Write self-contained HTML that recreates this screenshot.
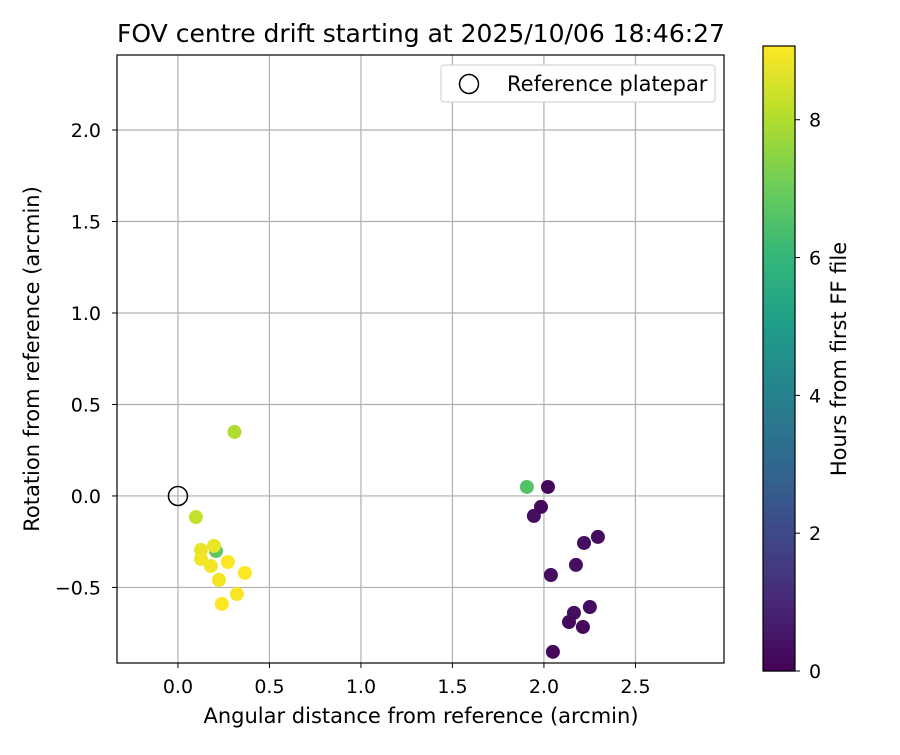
<!DOCTYPE html>
<html><head><meta charset="utf-8"><style>
body{margin:0;background:#fff;}
svg{font-family:"DejaVu Sans","Liberation Sans",sans-serif;}
</style></head><body>
<svg id="c" width="900" height="750" xmlns="http://www.w3.org/2000/svg"></svg>
<script>
const xVals=[0.309,0.098,0.126,0.126,0.208,0.197,0.180,0.273,0.224,0.366,0.322,0.240,1.907,2.022,1.984,1.945,2.219,2.295,2.175,2.038,2.251,2.164,2.137,2.213,2.049];
const yVals=[0.350,-0.115,-0.295,-0.344,-0.301,-0.273,-0.383,-0.361,-0.459,-0.421,-0.536,-0.590,0.049,0.049,-0.060,-0.109,-0.257,-0.224,-0.377,-0.432,-0.607,-0.639,-0.689,-0.716,-0.852];
const hours=[8.0,8.3,8.8,8.9,6.8,8.8,8.9,9.05,8.9,9.05,9.0,9.05,6.6,0.2,0.2,0.3,0.3,0.3,0.4,0.3,0.3,0.35,0.2,0.2,0.2];
const xTicks=[0.0,0.5,1.0,1.5,2.0,2.5];
const yTicks=[-0.5,0.0,0.5,1.0,1.5,2.0];
const cTicks=[0,2,4,6,8];
const X0=117,X1=724,Y0=55,Y1=663,xmin=-0.333,xmax=2.984,ymin=-0.913,ymax=2.41;
const sx=v=>X0+(v-xmin)/(xmax-xmin)*(X1-X0);
const sy=v=>Y1-(v-ymin)/(ymax-ymin)*(Y1-Y0);
const CB={x:763,w:32,top:46,bot:671,max:9.07};
const cy=v=>CB.bot-v/CB.max*(CB.bot-CB.top);
const vir=[[68,1,84],[72,40,120],[62,74,137],[49,104,142],[38,130,142],[31,158,137],[53,183,121],[109,205,89],[180,222,44],[253,231,37]];
function col(t){t=Math.max(0,Math.min(1,t))*(vir.length-1);const i=Math.min(Math.floor(t),vir.length-2),f=t-i;const a=vir[i],b=vir[i+1];return `rgb(${a.map((v,k)=>Math.round(v+(b[k]-v)*f)).join(',')})`;}
const svg=document.getElementById('c');const NS='http://www.w3.org/2000/svg';
function el(tag,at,txt){const e=document.createElementNS(NS,tag);for(const k in at)e.setAttribute(k,at[k]);if(txt!==undefined)e.textContent=txt;svg.appendChild(e);return e;}
let e;
e=el('text',{x:421,y:42,'font-size':25,'text-anchor':'middle'},'FOV centre drift starting at 2025/10/06 18:46:27');


xTicks.forEach(v=>{const x=sx(v);
e=el('line',{x1:x,x2:x,y1:Y0,y2:Y1,stroke:'#b0b0b0','stroke-width':1.2});


el('line',{x1:x,x2:x,y1:Y1,y2:Y1+5,stroke:'#000'});
e=el('text',{x:x,y:Y1+30,'font-size':19,'text-anchor':'middle'},v.toFixed(1));

});
yTicks.forEach(v=>{const y=sy(v);
e=el('line',{x1:X0,x2:X1,y1:y,y2:y,stroke:'#b0b0b0','stroke-width':1.2});


el('line',{x1:X0-5,x2:X0,y1:y,y2:y,stroke:'#000'});
e=el('text',{x:X0-16,y:y+7,'font-size':19,'text-anchor':'end'},(v<0?'\u2212':'')+Math.abs(v).toFixed(1));

});
xVals.forEach((v,i)=>{
e=el('circle',{cx:sx(v),cy:sy(yVals[i]),r:7,fill:col(hours[i]/CB.max)});

});
e=el('circle',{cx:sx(0),cy:sy(0),r:9.5,fill:'none',stroke:'#000','stroke-width':1.5});


e=el('rect',{x:X0,y:Y0,width:X1-X0,height:Y1-Y0,fill:'none',stroke:'#000','stroke-width':1.2});


e=el('text',{x:421,y:723,'font-size':21,'text-anchor':'middle'},'Angular distance from reference (arcmin)');


e=el('text',{x:39,y:359,'font-size':21,'text-anchor':'middle',transform:'rotate(-90 39 359)'},'Rotation from reference (arcmin)');


e=el('rect',{x:441,y:65,width:274,height:37,rx:3,fill:'#fff',stroke:'#ccc'});


el('circle',{cx:469,cy:84,r:9.5,fill:'none',stroke:'#000','stroke-width':1.5});
e=el('text',{x:507,y:91,'font-size':21},'Reference platepar');


const N=80;for(let i=0;i<N;i++){const y0=CB.bot-(i+1)*(CB.bot-CB.top)/N;el('rect',{x:CB.x,y:y0,width:CB.w,height:(CB.bot-CB.top)/N+0.6,fill:col((i+0.5)/N)});}
e=el('rect',{x:CB.x,y:CB.top,width:CB.w,height:CB.bot-CB.top,fill:'none',stroke:'#000','stroke-width':1.2});


cTicks.forEach(v=>{const y=cy(v);el('line',{x1:CB.x+CB.w,x2:CB.x+CB.w+5,y1:y,y2:y,stroke:'#000'});
e=el('text',{x:CB.x+CB.w+14,y:y+7,'font-size':19},String(v));

});
e=el('text',{x:846,y:359,'font-size':21,'text-anchor':'middle',transform:'rotate(-90 846 359)'},'Hours from first FF file');


</script>
</body></html>
